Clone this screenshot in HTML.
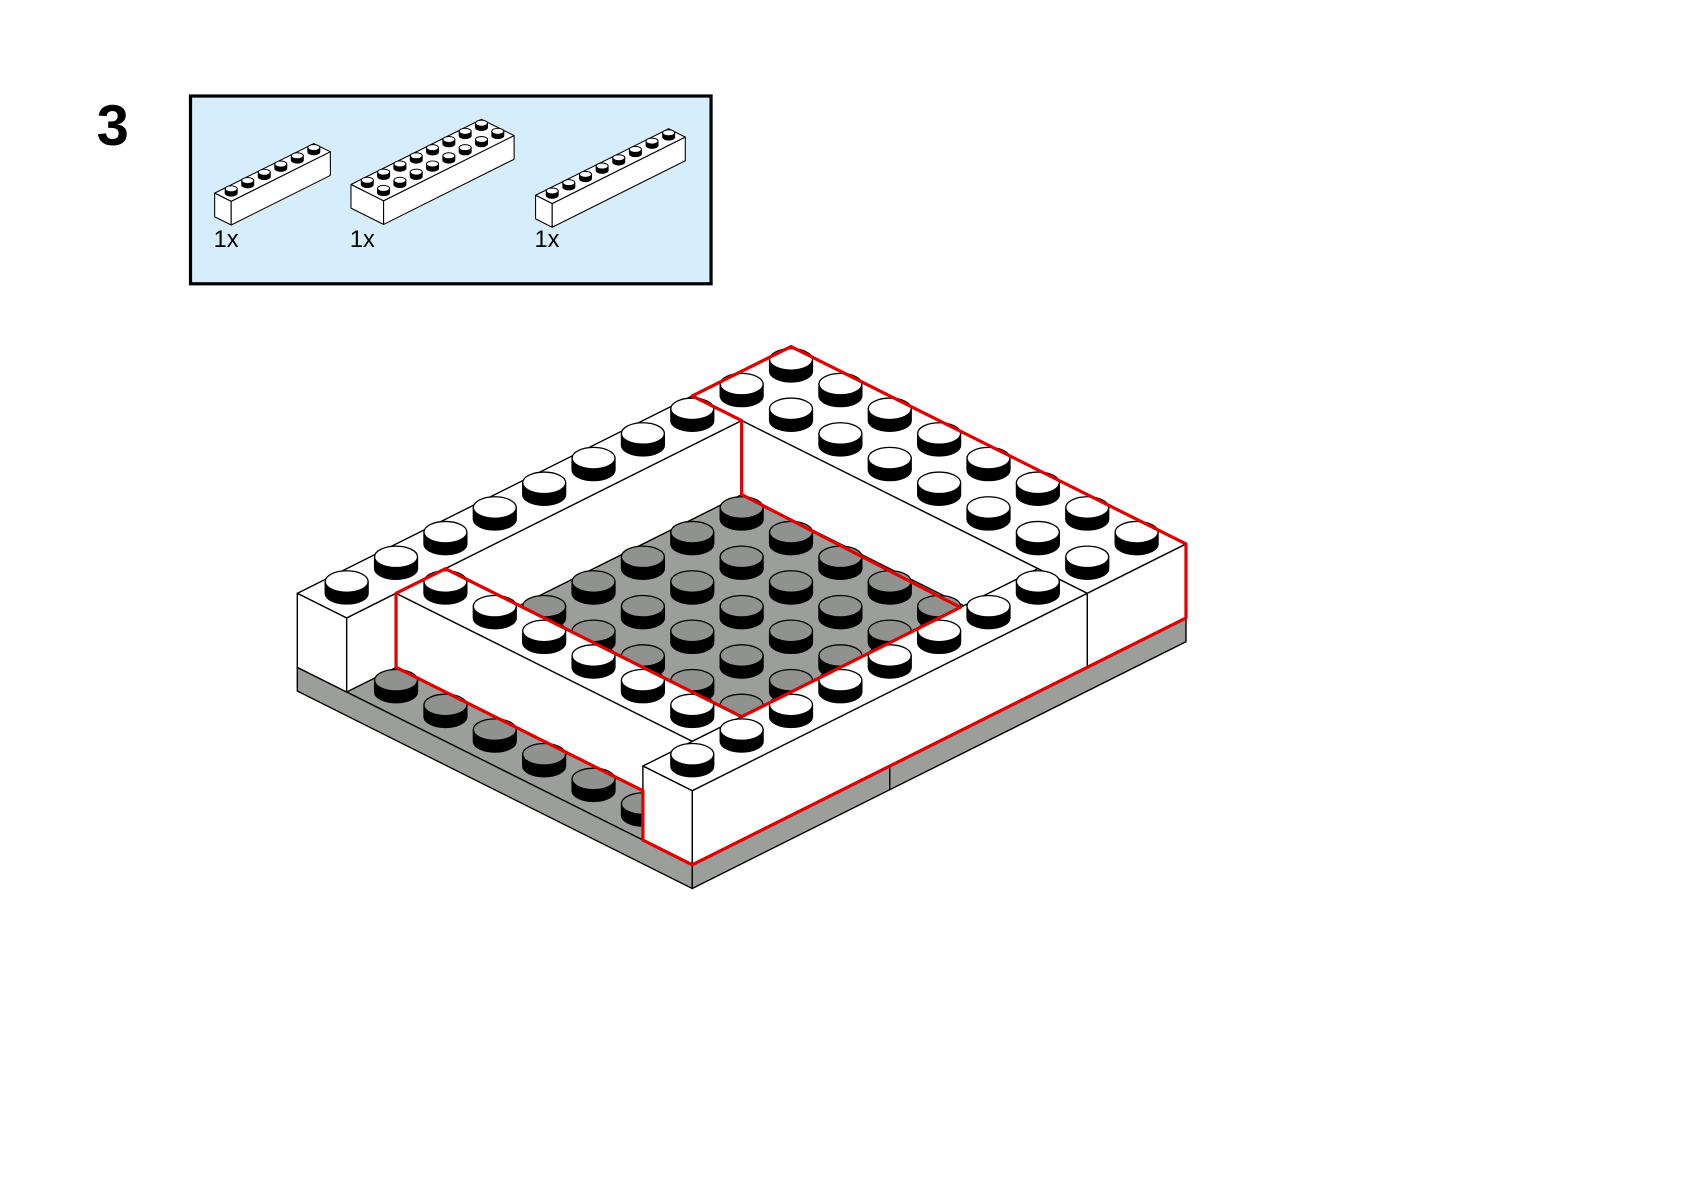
<!DOCTYPE html>
<html><head><meta charset="utf-8">
<style>html,body{margin:0;padding:0;background:#fff}svg{display:block}</style>
</head><body>
<svg id="s" width="1684" height="1192" viewBox="0 0 1569 1111" preserveAspectRatio="none" xmlns="http://www.w3.org/2000/svg">
<rect x="0" y="0" width="1600" height="1120" fill="#fff"/>
<text x="90" y="135" font-family="Liberation Sans, sans-serif" font-weight="bold" font-size="54">3</text>
<rect x="177.5" y="89.5" width="485" height="175" fill="#d6edfb" stroke="#000" stroke-width="3"/>
<g id="parts"></g>
<text x="199" y="230" font-family="Liberation Sans, sans-serif" font-size="22">1x</text>
<text x="326" y="230" font-family="Liberation Sans, sans-serif" font-size="22">1x</text>
<text x="498" y="230" font-family="Liberation Sans, sans-serif" font-size="22">1x</text>
<g id="model"></g>
</svg>
<script>
var NS="http://www.w3.org/2000/svg";
function el(parent,tag,attrs){var e=document.createElementNS(NS,tag);for(var k in attrs)e.setAttribute(k,attrs[k]);parent.appendChild(e);return e;}
function poly(g,pts,fill,sw,stroke){el(g,"polygon",{points:pts.map(function(p){return p[0].toFixed(1)+","+p[1].toFixed(1)}).join(" "),fill:fill,stroke:stroke||"#000","stroke-width":sw,"stroke-linejoin":"round"});}
function stud(g,cx,cy,r,ry,h,fill,sw){
  el(g,"path",{d:"M"+(cx-r)+","+(cy-h)+" L"+(cx-r)+","+cy+" A"+r+","+ry+" 0 0 0 "+(cx+r)+","+cy+" L"+(cx+r)+","+(cy-h)+" Z",fill:"#000",stroke:"#000","stroke-width":sw});
  el(g,"ellipse",{cx:cx,cy:cy-h,rx:r,ry:ry,fill:fill,stroke:"#000","stroke-width":sw});
}
var M=document.getElementById("model");
function X(a,b){return 323+46*a+46*b;}
function Y(a,b,z){return 553-23*a+23*b-69*z;}
function P(a,b,z){return [X(a,b),Y(a,b,z)];}
function box(a0,a1,b0,b1,z0,z1,fill){
  poly(M,[P(a0,b0,z1),P(a1,b0,z1),P(a1,b1,z1),P(a0,b1,z1)],fill,1.3);
  poly(M,[P(a0,b0,z1),P(a0,b1,z1),P(a0,b1,z0),P(a0,b0,z0)],fill,1.3);
  poly(M,[P(a0,b1,z1),P(a1,b1,z1),P(a1,b1,z0),P(a0,b1,z0)],fill,1.3);
}
var GRAY="#9c9e9b", GSTUD="#8f928e";
box(-0.5,9.5,-0.5,7.5,-1.32,-1,GRAY);
var p1=P(3.5,7.5,-1),p2=P(3.5,7.5,-1.32);
el(M,"line",{x1:p1[0],y1:p1[1],x2:p2[0],y2:p2[1],stroke:"#000","stroke-width":1.3});
box(7.5,9.5,-0.5,7.5,-1,0,"#fff");
box(-0.5,7.5,-0.5,0.5,-1,0,"#fff");
var gs=[];
for(var i=2;i<=7;i++)for(var j=1;j<=6;j++)gs.push([i,j]);
gs.sort(function(p,q){return (p[1]-p[0])-(q[1]-q[0]);});
gs.forEach(function(c){stud(M,X(c[0],c[1]),Y(c[0],c[1],-1),20,10,11,GSTUD,1.2);});
box(0.5,1.5,0.5,6.5,-1,0,"#fff");
for(var j=1;j<=6;j++)stud(M,X(0,j),Y(0,j,-1),20,10,11,GSTUD,1.2);
box(-0.5,7.5,6.5,7.5,-1,0,"#fff");
var ws=[];
for(var i=0;i<=7;i++){ws.push([i,0]);ws.push([i,7]);}
for(var j=0;j<=7;j++){ws.push([8,j]);ws.push([9,j]);}
for(var j=1;j<=6;j++)ws.push([1,j]);
ws.sort(function(p,q){return (p[1]-p[0])-(q[1]-q[0]);});
ws.forEach(function(c){stud(M,X(c[0],c[1]),Y(c[0],c[1],0),20,10,11,"#fff",1.2);});
var red=[P(7.5,-0.5,0),P(9.5,-0.5,0),P(9.5,7.5,0),P(9.5,7.5,-1),P(-0.5,7.5,-1),P(-0.5,6.5,-1),[599,737],P(0.5,0.5,-1),P(0.5,0.5,0),P(1.5,0.5,0),P(1.5,6.5,0),P(5.93,6.5,0),P(7.5,0.5,-1),P(7.5,0.5,0)];
el(M,"polygon",{points:red.map(function(p){return p[0].toFixed(1)+","+p[1].toFixed(1)}).join(" "),fill:"none",stroke:"#e30000","stroke-width":3,"stroke-linejoin":"round"});
var G=document.getElementById("parts");
function small(Lx,Ly,s,A,B,h){
  function Q(a,b,z){return [Lx+s*a+s*b, Ly-s/2*a+s/2*b-h*z];}
  poly(G,[Q(0,0,0),Q(A,0,0),Q(A,B,0),Q(0,B,0)],"#fff",1);
  poly(G,[Q(0,0,0),Q(0,B,0),Q(0,B,-1),Q(0,0,-1)],"#fff",1);
  poly(G,[Q(0,B,0),Q(A,B,0),Q(A,B,-1),Q(0,B,-1)],"#fff",1);
  var st=[];for(var a=0;a<A;a++)for(var b=0;b<B;b++)st.push([a,b]);
  st.sort(function(p,q){return (p[1]-p[0])-(q[1]-q[0]);});
  st.forEach(function(c){var q=Q(c[0]+0.5,c[1]+0.5,0);stud(G,q[0],q[1],5.6,2.8,4,"#fff",0.9);});
}
small(200,180,15.4,6,1,22);
small(327,172,15.2,8,2,22);
small(499,182,15.5,8,1,22);
</script>
</body></html>
